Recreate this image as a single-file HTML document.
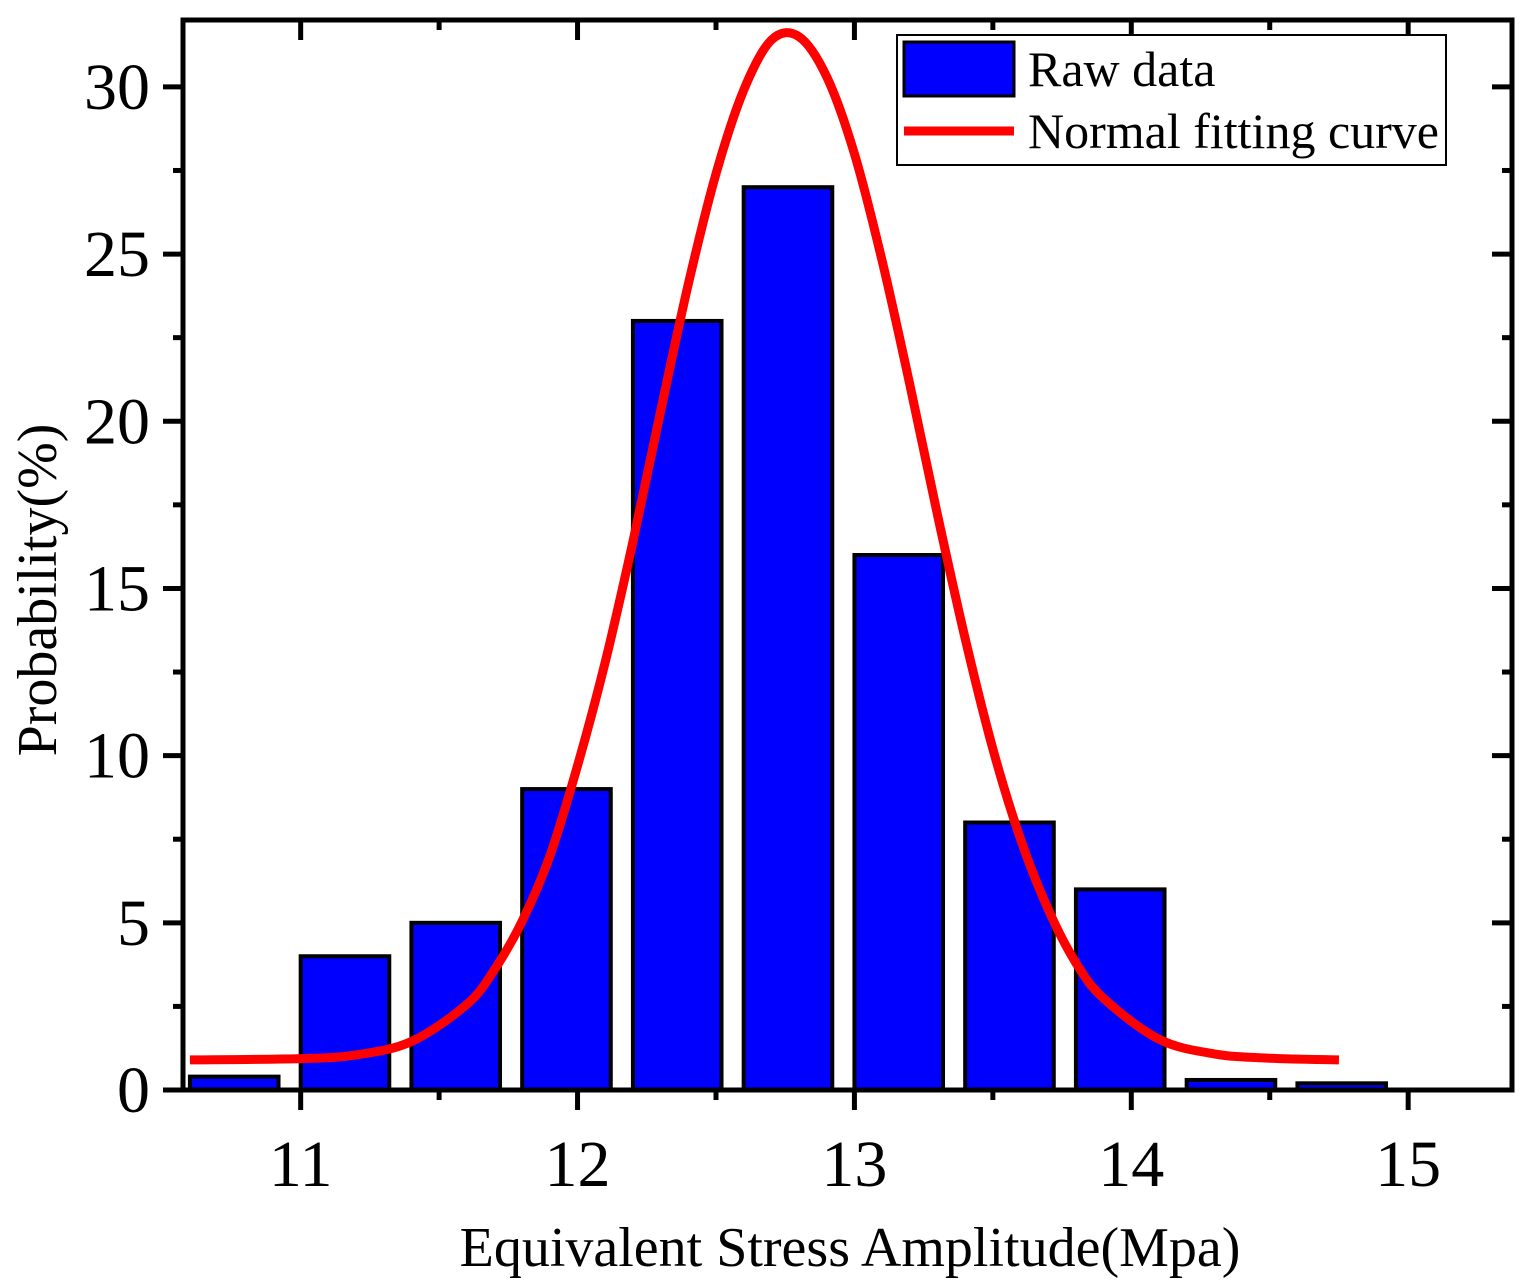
<!DOCTYPE html>
<html><head><meta charset="utf-8"><style>
html,body{margin:0;padding:0;background:#fff}
svg{display:block}
text{font-family:"Liberation Serif",serif;fill:#000}
</style></head><body>
<svg id="chart" width="1530" height="1288" viewBox="0 0 1530 1288" xmlns="http://www.w3.org/2000/svg">
<g id="bars"></g>
<g id="curve"></g>
<g id="axes"></g>
<text x="850" y="1266" font-size="56" text-anchor="middle">Equivalent Stress Amplitude(Mpa)</text>
<text transform="translate(56,590) rotate(-90)" font-size="56" text-anchor="middle">Probability(%)</text>
<g>
<rect x="897" y="35" width="549" height="130" fill="#fff" stroke="#000" stroke-width="2"/>
<rect x="904" y="42" width="110" height="54" fill="#0000ff" stroke="#000" stroke-width="3"/>
<text x="1028" y="86" font-size="50">Raw data</text>
<line x1="904" y1="131" x2="1014" y2="131" stroke="#ff0000" stroke-width="9"/>
<text x="1028" y="148" font-size="50">Normal fitting curve</text>
</g>
</svg>
<script>
const binCenters=[10.76,11.16,11.56,11.96,12.36,12.76,13.16,13.56,13.96,14.36,14.76];
const binValues=[0.4,4,5,9,23,27,16,8,6,0.3,0.2];
const curveX=[10.6,11.0,11.2,11.4,11.6,11.7,11.8,11.9,12.0,12.1,12.2,12.3,12.4,12.5,12.6,12.7,12.8,12.9,13.0,13.1,13.2,13.3,13.4,13.5,13.6,13.7,13.8,13.9,14.1,14.3,14.5,14.75];
const curveY=[0.9,0.94,1.05,1.45,2.56,3.6,5.05,7.0,9.7,12.8,16.4,20.3,24.1,27.4,29.9,31.4,31.5,30.3,28.0,24.8,21.1,17.2,13.5,10.2,7.5,5.4,3.8,2.74,1.52,1.08,0.95,0.9];
const xTicks=[11,12,13,14,15];
const yTicks=[0,5,10,15,20,25,30];
const binWidth=0.32;
const L=183,R=1512,T=20,B=1090,xmin=10.575,xmax=15.375,ymin=0,ymax=32.0;
const sx=v=>L+(v-xmin)/(xmax-xmin)*(R-L);
const sy=v=>B-(v-ymin)/(ymax-ymin)*(B-T);
const NS='http://www.w3.org/2000/svg';
function mk(tag,attrs,parent){const e=document.createElementNS(NS,tag);for(const k in attrs)e.setAttribute(k,attrs[k]);parent.appendChild(e);return e;}
const bars=document.getElementById('bars');
binCenters.forEach((c,i)=>{
 const x0=sx(c-binWidth/2),x1=sx(c+binWidth/2),y=sy(binValues[i]);
 const r=mk('rect',{x:x0,y:y,width:x1-x0,height:B-y,fill:'#0000ff',stroke:'#000','stroke-width':4},bars);
 
 
});
const pts=curveX.map((x,i)=>[sx(x),sy(curveY[i])]);
let d='M'+pts[0][0]+','+pts[0][1];
for(let i=0;i<pts.length-1;i++){
 const p0=pts[Math.max(0,i-1)],p1=pts[i],p2=pts[i+1],p3=pts[Math.min(pts.length-1,i+2)];
 d+=' C'+(p1[0]+(p2[0]-p0[0])/6)+','+(p1[1]+(p2[1]-p0[1])/6)+' '+(p2[0]-(p3[0]-p1[0])/6)+','+(p2[1]-(p3[1]-p1[1])/6)+' '+p2[0]+','+p2[1];
}
const cp=mk('path',{d:d,fill:'none',stroke:'#ff0000','stroke-width':9,'stroke-linejoin':'round'},document.getElementById('curve'));


const ax=document.getElementById('axes');
const frame=mk('rect',{x:L,y:T,width:R-L,height:B-T,fill:'none',stroke:'#000','stroke-width':5},ax);


const tk={stroke:'#000','stroke-width':5};
for(let v=10.5;v<=15.3;v+=0.5){
 if(v<xmin)continue;
 const major=Math.abs(v-Math.round(v))<1e-6;const x=sx(v);
 mk('line',Object.assign({x1:x,y1:B,x2:x,y2:B+(major?20:10)},tk),ax);
 mk('line',Object.assign({x1:x,y1:T,x2:x,y2:T+(major?20:10)},tk),ax);
}
xTicks.forEach(v=>{
 const t=mk('text',{x:sx(v),y:1186,'font-size':66,'text-anchor':'middle'},ax);t.textContent=v;
 
 
});
for(let v=0;v<=31;v+=2.5){
 const major=v%5===0;const y=sy(v);
 mk('line',Object.assign({x1:L,y1:y,x2:L-(major?20:10),y2:y},tk),ax);
 mk('line',Object.assign({x1:R,y1:y,x2:R-(major?20:10),y2:y},tk),ax);
}
yTicks.forEach(v=>{
 const t=mk('text',{x:150,y:sy(v)+22,'font-size':66,'text-anchor':'end'},ax);t.textContent=v;
 
 
});
</script>
</body></html>
